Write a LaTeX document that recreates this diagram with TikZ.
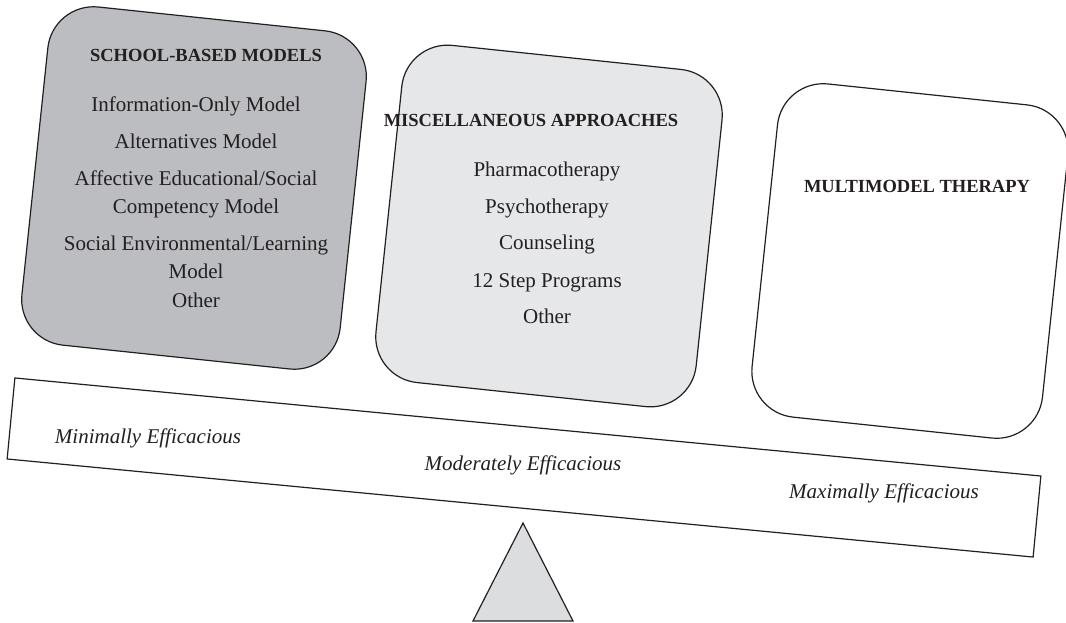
\documentclass[tikz,border=0pt]{standalone}
\usepackage{fontspec}
\setmainfont{Liberation Serif}
\begin{document}
\begin{tikzpicture}[x=1pt,y=-1pt,
  ink/.style={draw=inkcol,line width=1.2pt},
  card/.style={ink,rounded corners=46pt,rotate=-6,inner sep=0pt},
  head/.style={anchor=base,text=inkcol,font=\fontsize{18.5}{22}\selectfont\bfseries},
  item/.style={anchor=base,text=inkcol,align=center,font=\fontsize{21}{28}\selectfont},
  rating/.style={anchor=base,text=inkcol,font=\fontsize{21}{26}\selectfont\itshape}]
\definecolor{inkcol}{HTML}{231F20}
\definecolor{darkfill}{HTML}{BCBDC0}
\definecolor{lightfill}{HTML}{E6E7E8}
\definecolor{basefill}{HTML}{DCDDDF}
\useasboundingbox (0,0) rectangle (1066,623);

% the three groups of approaches
\node[card,fill=darkfill,minimum width=320pt,minimum height=340pt] (school) at (194,188) {};
\node[card,fill=lightfill,minimum width=322pt,minimum height=339pt] (misc) at (549,226) {};
\node[card,fill=white,minimum width=292pt,minimum height=335pt] (multi) at (910,261) {};

% the balance beam and its fulcrum
\node[ink,fill=white,rotate=-5.46,minimum width=1030.7pt,minimum height=81.4pt,inner sep=0pt] (beam) at (524,467.5) {};
\coordinate (apex) at (523,523);
\coordinate (baseL) at (473,621);
\coordinate (baseR) at (573,621);
\draw[ink,fill=basefill,line join=miter] (apex) -- (baseR) -- (baseL) -- cycle;

% school-based models (two-line entries are placed by their last baseline)
\node[head] (schoolT) at (206,61.5) {SCHOOL-BASED MODELS};
\node[item] (s1) at (196,112) {Information-Only Model};
\node[item] (s2) at (196,149) {Alternatives Model};
\node[item] (s3) at (196,213) {Affective Educational/Social\\Competency Model};
\node[item] (s4) at (196,278) {Social Environmental/Learning\\Model};
\node[item] (s5) at (196,307) {Other};

% miscellaneous approaches
\node[head] (miscT) at (531,127) {MISCELLANEOUS APPROACHES};
\node[item] (m1) at (547,176) {Pharmacotherapy};
\node[item] (m2) at (547,213) {Psychotherapy};
\node[item] (m3) at (547,249) {Counseling};
\node[item] (m4) at (547,287) {12 Step Programs};
\node[item] (m5) at (547,323) {Other};

% multimodel therapy
\node[head] (multiT) at (917,193) {MULTIMODEL THERAPY};

% efficacy along the beam
\node[rating] (minE) at (148,443) {Minimally Efficacious};
\node[rating] (modE) at (523,470) {Moderately Efficacious};
\node[rating] (maxE) at (884,498) {Maximally Efficacious};
\end{tikzpicture}
\end{document}
